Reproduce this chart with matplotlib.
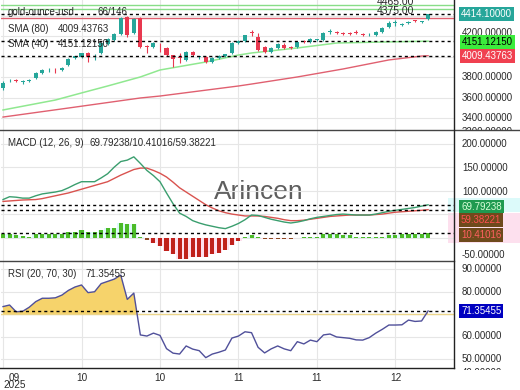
import matplotlib
matplotlib.use("Agg")
import matplotlib.pyplot as plt
from matplotlib.lines import Line2D
from matplotlib.patches import Rectangle
import numpy as np

plt.rcParams['font.family'] = ['Liberation Sans', 'DejaVu Sans']

W, H = 520, 390

# daily candles, gold-ounce-usd
opens = [3694, 3768, 3768, 3750, 3763, 3792, 3841, 3866, 3874, 3868,
         3919, 3987, 3997, 4036, 4012, 4036, 4124, 4163, 4221, 4387,
         4231, 4377, 4099, 4094, 4118, 4085, 4016, 3990, 3968, 4046,
         3994, 3997, 3948, 3987, 4006, 4036, 4133, 4153, 4233, 4192,
         4094, 4046, 4085, 4114, 4088, 4094, 4146, 4143, 4160, 4163,
         4238, 4235, 4225, 4224, 4233, 4215, 4218, 4211, 4241, 4290,
         4326, 4307, 4328, 4350, 4336, 4368]
highs = [3763, 3782, 3780, 3770, 3786, 3848, 3878, 3889, 3888, 3898,
         3985, 4010, 4040, 4045, 4030, 4140, 4180, 4230, 4390, 4398,
         4380, 4385, 4114, 4140, 4133, 4094, 4020, 4036, 4055, 4055,
         4010, 4005, 3992, 4012, 4030, 4140, 4158, 4215, 4260, 4230,
         4100, 4090, 4130, 4130, 4100, 4150, 4160, 4180, 4175, 4240,
         4270, 4250, 4238, 4238, 4260, 4228, 4232, 4248, 4290, 4348,
         4358, 4325, 4345, 4362, 4350, 4420]
lows = [3675, 3753, 3748, 3738, 3755, 3785, 3830, 3850, 3841, 3860,
        3910, 3980, 3990, 3948, 3968, 4030, 4118, 4155, 4210, 4190,
        4220, 4085, 4036, 4085, 4046, 4010, 3899, 3938, 3960, 4010,
        3980, 3940, 3940, 3980, 4000, 4030, 4125, 4145, 4200, 4060,
        4040, 4040, 4078, 4078, 4070, 4088, 4130, 4135, 4150, 4155,
        4221, 4220, 4210, 4210, 4222, 4200, 4205, 4205, 4235, 4282,
        4299, 4295, 4320, 4335, 4328, 4360]
closes = [3743, 3773, 3762, 3758, 3775, 3841, 3870, 3872, 3866, 3889,
          3977, 4006, 4036, 3997, 4020, 4133, 4172, 4221, 4377, 4211,
          4368, 4094, 4092, 4133, 4110, 4016, 3977, 3985, 4046, 4016,
          3999, 3948, 3987, 4006, 4026, 4133, 4153, 4211, 4228, 4065,
          4046, 4085, 4124, 4085, 4082, 4143, 4141, 4172, 4165, 4231,
          4243, 4230, 4220, 4219, 4229, 4210, 4223, 4241, 4280, 4329,
          4331, 4311, 4338, 4346, 4340, 4414.1]

sma40_idx = [0, 8, 12, 16, 21, 24, 31, 36, 38, 45, 51, 58, 64, 65]
sma40_val = [3480, 3577, 3646, 3714, 3802, 3870, 3948, 4016, 4036, 4085,
             4133, 4143, 4150, 4151.12]
sma80_idx = [0, 10, 21, 24, 36, 38, 45, 52, 59, 64, 65]
sma80_val = [3411, 3499, 3597, 3616, 3714, 3733, 3802, 3880, 3968, 4006,
             4009.44]

green_levels = [4504, 4465]
red_level = 4375

macd = [81, 87, 86, 84, 84, 89, 93, 95, 97, 100,
        106, 113, 119, 119, 119, 127, 136, 150, 162, 165,
        172, 158, 143, 132, 119, 95, 72, 52, 45, 36,
        31, 27, 24, 21, 19, 24, 30, 38, 48, 47,
        43, 39, 36, 33, 31, 33, 36, 40, 43, 45,
        47, 49, 50, 49, 48, 48, 48, 50, 53, 56,
        58, 60, 62, 64, 67, 69.79]
signal = [77, 78, 79, 80, 80.5, 81, 83, 86, 89, 92,
          95, 99, 103, 107, 111, 115, 119, 126, 133, 139,
          145, 148, 148, 143, 137, 129, 118, 106, 97, 88,
          79, 70, 63, 57, 53, 50, 48, 46, 46, 46,
          45, 43, 41, 38, 36, 36, 37, 39, 41, 43,
          45, 46, 47, 48, 48, 48, 48, 49, 50, 52,
          54, 55, 56, 57, 58, 59.38]
hist = [7.6, 7.6, 5.6, 4.2, 2.1, 7.6, 7.6, 7.6, 7.6, 7.6,
        12.5, 12.5, 16, 12.5, 12.5, 16, 19.4, 20.8, 31, 27.8,
        27.8, 0.5, -4.9, -11.8, -18.8, -29, -36, -45, -45, -41,
        -41, -41, -36, -32.6, -25.7, -16, -8, 0.5, 5.5, 1,
        -3, -3, -3, -3, -4, -1, 0.8, 1, 1, 7.6,
        7.6, 7.6, 5.5, 5, 2, 1, 0.3, 1, 2, 5.5,
        5.5, 7, 7, 7, 7, 10.41]

rsi = [73.3, 74, 71, 71.2, 73, 75.5, 77, 77, 77.2, 78.4,
       80.5, 82, 82.9, 79.5, 79.9, 83.5, 84.5, 85.5, 87.3, 76.5,
       79.3, 60.7, 60.2, 61.5, 60.5, 54.6, 52.6, 52.2, 55.8, 54.4,
       53.7, 50.6, 52.2, 53, 54, 59.3, 60.2, 62.1, 61.7, 55.2,
       52.7, 54.5, 55.8, 54.5, 53.7, 57.7, 56.7, 58.4, 57.7, 60.7,
       61.1, 59.8, 59.5, 59.2, 58.5, 58.4, 59.5, 61.5, 63.2, 65.1,
       65.1, 65.2, 67.3, 66.7, 66.9, 71.35]

tick_idx = [0, 12, 24, 36, 48, 60]
tick_labels = ['09\n2025', '10', '10', '11', '11', '12']

TEAL = '#26a69a'
RED = '#e8384f'
GRID = '#e6e6e6'
TXT = '#2a2a2a'
FS = 7

fig = plt.figure(figsize=(W / 100, H / 100), dpi=100)


def box(x0, y0, x1, y1):
    return [x0 / W, 1 - y1 / H, (x1 - x0) / W, (y1 - y0) / H]


def ftext(x, y, s, **kw):
    return fig.text(x / W, 1 - y / H, s, fontsize=FS, color=TXT, va='center', **kw)


def frect(x0, y0, x1, y1, color):
    fig.add_artist(Rectangle((x0 / W, 1 - y1 / H), (x1 - x0) / W, (y1 - y0) / H,
                             transform=fig.transFigure, fc=color, ec='none', zorder=-1))


def fline(xs, ys, **kw):
    fig.add_artist(Line2D([v / W for v in xs], [1 - v / H for v in ys],
                          transform=fig.transFigure, **kw))


ax_p = fig.add_axes(box(1, -10, 454, 130))
ax_m = fig.add_axes(box(1, 130, 454, 261))
ax_r = fig.add_axes(box(1, 261, 454, 368))
lab_p = fig.add_axes(box(454, -10, 520, 130))
lab_m = fig.add_axes(box(454, 130, 520, 261))
lab_r = fig.add_axes(box(454, 261, 520, 370))

ylims = {ax_p: (3284.6, 4650.4), ax_m: (-43.75, 229.2), ax_r: (46.0, 93.56)}
grids = {ax_p: [3400, 3600, 3800, 4000, 4200, 4400],
         ax_m: [-50, 0, 50, 100, 150, 200],
         ax_r: [50, 60, 70, 80, 90]}
for ax in (ax_p, ax_m, ax_r):
    ax.set_facecolor('none')
    ax.set_xlim(-0.31, 68.96)
    ax.set_ylim(*ylims[ax])
    for s in ax.spines.values():
        s.set_visible(False)
    ax.set_yticks(grids[ax])
    ax.set_xticks(tick_idx)
    ax.tick_params(length=0, labelleft=False, labelbottom=False)
    ax.grid(True, color=GRID, lw=0.8, zorder=0)
    ax.set_axisbelow(True)

for lab, ax in ((lab_p, ax_p), (lab_m, ax_m)):
    lab.set_xlim(454, 520)
    lab.set_ylim(*ylims[ax])
    lab.axis('off')
lab_r.set_xlim(454, 520)
lab_r.set_ylim(45.1, 93.56)
lab_r.axis('off')

# ---- price panel ----
x = np.arange(len(closes))
o = np.array(opens, float)
c = np.array(closes, float)
col = np.where(c >= o, TEAL, RED)
ax_p.plot(sma80_idx, sma80_val, color='#e06070', lw=1, zorder=2)
ax_p.plot(sma40_idx, sma40_val, color='#90e890', lw=1.1, zorder=2)
ax_p.vlines(x, lows, highs, colors=col, lw=0.8, zorder=3)
ax_p.bar(x, np.maximum(np.abs(c - o), 8), bottom=np.minimum(o, c), width=0.62,
         color=col, zorder=3)
for lv in green_levels:
    ax_p.axhline(lv, color='#88dd88', lw=1, zorder=2)
ax_p.axhline(red_level, color='#e06070', lw=1, zorder=2)
dash = (0, (2.2, 2.2))
for lv in (closes[-1], sma40_val[-1], sma80_val[-1]):
    ax_p.axhline(lv, color='black', lw=1, ls=dash, zorder=4)
# level captions sit just above their lines
ax_p.text(62.8, 4445, '%.2f' % red_level, ha='right', va='center',
          fontsize=7.5, color=TXT)
ax_p.text(62.8, 4536, '%.2f' % green_levels[1], ha='right', va='center',
          fontsize=7.5, color=TXT)

for v, s in ((4600, '4600.00000'), (4230, '4200.00000'), (3800, '3800.00000'),
             (3600, '3600.00000'), (3400, '3400.00000'), (3262, '3200.00000')):
    lab_p.text(462, v, s, ha='left', va='center', fontsize=FS, color=TXT,
               clip_on=True)
lab_p.text(461, closes[-1], '%.5f' % closes[-1], ha='left', va='center', fontsize=FS,
           color='white', bbox=dict(boxstyle='square,pad=0.2', fc=TEAL, ec='none'))
lab_p.text(462, sma40_val[-1] - 10, '4151.12150', ha='left', va='center', fontsize=FS,
           color='black', bbox=dict(boxstyle='square,pad=0.2', fc='#3cec3c', ec='none'))
lab_p.text(462, sma80_val[-1], '4009.43763', ha='left', va='center', fontsize=FS,
           color='white', bbox=dict(boxstyle='square,pad=0.2', fc='#f04050', ec='none'))

ftext(8, 12, 'gold-ounce-usd')
ftext(97, 12, '66/146')
ftext(8, 29, 'SMA (80)')
ftext(58, 29, '4009.43763')
ftext(8, 44, 'SMA (40)')
ftext(58, 44, '4151.12150')

# ---- MACD panel ----
h = np.array(hist)
hcol = np.where(h >= 0, '#4cbb28', np.where(h < -6, '#c0211b', '#8b4a22'))
ax_m.fill_between(x, 0, np.clip(h, 0, None), step='mid', color='#dcfafa', lw=0, zorder=1)
ax_m.fill_between(x, 0, np.clip(h, None, 0), step='mid', color='#fde0ee', lw=0, zorder=1)
ax_m.bar(x, h, width=0.62, color=hcol, zorder=2)
ax_m.plot(x, signal, color='#d9534f', lw=1, zorder=3)
ax_m.plot(x, macd, color='#3a9e6e', lw=1, zorder=3)
for lv in (macd[-1], signal[-1], hist[-1]):
    ax_m.axhline(lv, color='black', lw=1, ls=dash, zorder=4)
fig.text(259 / W, 1 - 192 / H, 'Arincen', fontsize=19, color='#5e5e5e',
         ha='center', va='center', zorder=-0.5)

for v, s in ((200, '200.00000'), (150, '150.00000'), (100, '100.00000'),
             (-31, '-50.00000')):
    lab_m.text(462, v, s, ha='left', va='center', fontsize=FS, color=TXT)
frect(448, 198, 520, 212, '#dcfafa')
frect(448, 213, 520, 243, '#fde0ee')
lab_m.text(461, macd[-1], '69.79238', ha='left', va='center', fontsize=FS,
           color='#d8ffd8', bbox=dict(boxstyle='square,pad=0.2', fc='#1f9a50', ec='none'))
lab_m.text(461, 41.7, '59.38221', ha='left', va='center', fontsize=FS,
           color='#ff5050', bbox=dict(boxstyle='square,pad=0.2', fc='#6e4a1c', ec='none'))
lab_m.text(461, hist[-1], '10.41016', ha='left', va='center', fontsize=FS,
           color='#ff6060', bbox=dict(boxstyle='square,pad=0.2', fc='#6e4a1c', ec='none'))
ftext(8, 143, 'MACD (12, 26, 9)')
ftext(90, 143, '69.79238/10.41016/59.38221')

# ---- RSI panel ----
r = np.array(rsi)
ax_r.fill_between(x, 70, r, where=r >= 70, interpolate=True, color='#f6d36b', lw=0, zorder=1)
ax_r.axhline(70, color='#ecd58a', lw=1, zorder=1)
ax_r.plot(x, r, color='#50509a', lw=1, zorder=3)
ax_r.axhline(rsi[-1], color='black', lw=1, ls=dash, zorder=4)
for v, s in ((90, '90.00000'), (80, '80.00000'), (60, '60.00000'), (50, '50.00000'),
             (43.8, '40.00000')):
    lab_r.text(462, v, s, ha='left', va='center', fontsize=FS, color=TXT,
               clip_on=True)
lab_r.text(461, rsi[-1], '71.35455', ha='left', va='center', fontsize=FS,
           color='white', bbox=dict(boxstyle='square,pad=0.2', fc='#0000c0', ec='none'))
ftext(8, 274, 'RSI (20, 70, 30)')
ftext(85, 274, '71.35455')

ax_r.tick_params(labelbottom=True, pad=3.5, labelsize=7.2, labelcolor=TXT)
ax_r.set_xticklabels(tick_labels, linespacing=0.7)
first = ax_r.get_xticklabels()[0]
first.set_ha('left')
first.set_multialignment('center')

# frame lines
fline([0, 520], [130, 130], color='#444444', lw=1)
fline([0, 454], [261, 261], color='#444444', lw=1)
fline([0, 454], [368, 368], color='#222222', lw=1)
fline([454, 454], [0, 368], color='#222222', lw=1)

fig.savefig('out.png', dpi=100, facecolor='white')
